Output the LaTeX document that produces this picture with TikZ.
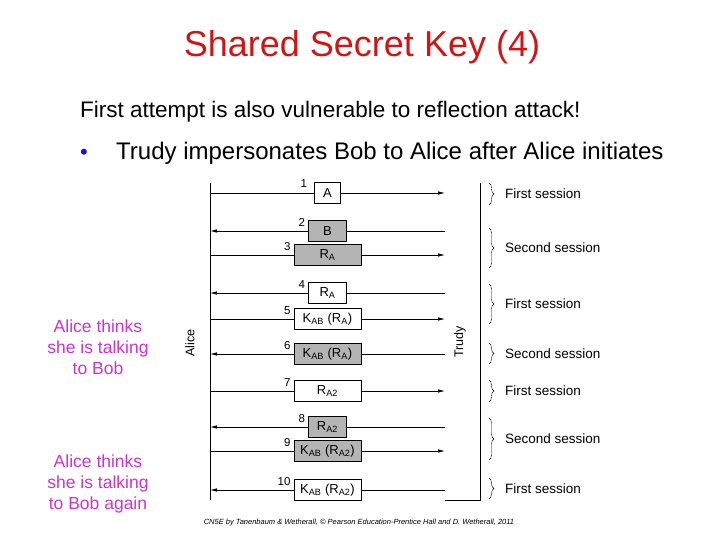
\documentclass[tikz,border=0pt]{standalone}
\usepackage{fontspec}
\setmainfont{Liberation Sans}
\usetikzlibrary{arrows.meta,decorations.pathreplacing}
\definecolor{titlered}{RGB}{210,20,20}
\definecolor{thinkpink}{RGB}{204,51,204}
\definecolor{bulletblue}{RGB}{20,20,200}
\definecolor{boxgray}{RGB}{180,180,180}
\tikzset{
  msg/.style={line width=0.7pt,-{Latex[length=7pt,width=3.5pt]}},
  life/.style={line width=0.7pt},
  pkt/.style={draw,line width=0.7pt,fill=white,inner sep=0pt,minimum height=21pt,font=\fontsize{13}{13}\selectfont},
  wide/.style={minimum width=67pt},
  narrow/.style={minimum width=38pt},
  shade/.style={fill=boxgray},
  num/.style={inner sep=0pt,anchor=east,font=\fontsize{11.5}{12}\selectfont},
  brc/.style={decorate,decoration={brace,amplitude=5pt}},
  sess/.style={anchor=west,inner sep=0pt,xshift=16pt,font=\fontsize{13.5}{14}\selectfont},
  think/.style={text=thinkpink,align=center,font=\fontsize{17.5}{21}\selectfont},
}
\begin{document}
\begin{tikzpicture}[x=1pt,y=-1pt]
    \useasboundingbox (0,0) rectangle (720,540);

    \node[anchor=base,text=titlered,font=\fontsize{36}{40}\selectfont] (title) at (362,57) {Shared Secret Key (4)};
    \node[anchor=base west,inner sep=0pt,font=\fontsize{22.5}{26}\selectfont] (intro) at (80,118) {First attempt is also vulnerable to reflection attack!};
    \node[anchor=base west,inner sep=0pt,text=bulletblue,font=\fontsize{22}{26}\selectfont] (dot) at (80,160) {•};
    \node[anchor=base west,inner sep=0pt,font=\fontsize{24}{28}\selectfont] (point) at (116,160) {Trudy impersonates Bob to Alice after Alice initiates};

    \node[think] (think1) at (98,347) {Alice thinks\\she is talking\\to Bob};
    \node[think] (think2) at (98,484) {Alice thinks\\she is talking\\to Bob again};

    % lifelines
    \coordinate (alicetop) at (210,183);
    \coordinate (alicebot) at (210,500);
    \coordinate (trudytop) at (480,183);
    \coordinate (trudybot) at (480,500);
    \node[rotate=90,font=\fontsize{12.5}{13}\selectfont] (alice) at (190,343) {Alice};
    \node[rotate=90,font=\fontsize{12.5}{13}\selectfont] (trudy) at (460,342) {Trudy};

    \coordinate (A1) at (210,193);  \coordinate (T1) at (445,193);
    \coordinate (A2) at (210,231);  \coordinate (T2) at (445,231);
    \coordinate (A3) at (210,255);  \coordinate (T3) at (445,255);
    \coordinate (A4) at (210,293);  \coordinate (T4) at (445,293);
    \coordinate (A5) at (210,319);  \coordinate (T5) at (445,319);
    \coordinate (A6) at (210,354);  \coordinate (T6) at (445,354);
    \coordinate (A7) at (210,391);  \coordinate (T7) at (445,391);
    \coordinate (A8) at (210,427);  \coordinate (T8) at (445,427);
    \coordinate (A9) at (210,451);  \coordinate (T9) at (445,451);
    \coordinate (A10) at (210,490); \coordinate (T10) at (445,490);

    \draw[life] (alicetop) -- (alicebot);
    \draw[life] (T10 |- trudybot) -- (trudybot) -- (trudytop);

    % messages
    \draw[msg] (A1) -- node[pkt,minimum width=26pt] (m1) {A} (T1);
    \draw[msg] (T2) -- node[pkt,narrow,shade] (m2) {B} (A2);
    \draw[msg] (A3) -- node[pkt,wide,shade] (m3) {R\textsubscript{A}} (T3);
    \draw[msg] (T4) -- node[pkt,narrow] (m4) {R\textsubscript{A}} (A4);
    \draw[msg] (A5) -- node[pkt,wide] (m5) {K\textsubscript{AB} (R\textsubscript{A})} (T5);
    \draw[msg] (T6) -- node[pkt,wide,shade] (m6) {K\textsubscript{AB} (R\textsubscript{A})} (A6);
    \draw[msg] (A7) -- node[pkt,wide] (m7) {R\textsubscript{A2}} (T7);
    \draw[msg] (T8) -- node[pkt,narrow,shade] (m8) {R\textsubscript{A2}} (A8);
    \draw[msg] (A9) -- node[pkt,wide,shade] (m9) {K\textsubscript{AB} (R\textsubscript{A2})} (T9);
    \draw[msg] (T10) -- node[pkt,wide] (m10) {K\textsubscript{AB} (R\textsubscript{A2})} (A10);

    \node[num] (n1) at ([xshift=-7pt,yshift=-1pt]m1.north west) {1};
    \node[num] (n2) at ([xshift=-3pt,yshift=-2pt]m2.north west) {2};
    \node[num] (n3) at ([xshift=-3pt,yshift=-2pt]m3.north west) {3};
    \node[num] (n4) at ([xshift=-3pt,yshift=-2pt]m4.north west) {4};
    \node[num] (n5) at ([xshift=-3pt,yshift=-2pt]m5.north west) {5};
    \node[num] (n6) at ([xshift=-3pt,yshift=-2pt]m6.north west) {6};
    \node[num] (n7) at ([xshift=-3pt,yshift=-2pt]m7.north west) {7};
    \node[num] (n8) at ([xshift=-3pt,yshift=-2pt]m8.north west) {8};
    \node[num] (n9) at ([xshift=-3pt,yshift=-2pt]m9.north west) {9};
    \node[num] (n10) at ([xshift=-3pt,yshift=-2pt]m10.north west) {10};

    % sessions
    \draw[brc] (489,183) -- node[sess] (s1) {First session} (489,205);
    \draw[brc] (489,228) -- node[sess] (s2) {Second session} (489,268);
    \draw[brc] (489,284) -- node[sess] (s3) {First session} (489,324);
    \draw[brc] (489,343) -- node[sess] (s4) {Second session} (489,364);
    \draw[brc] (489,380) -- node[sess] (s5) {First session} (489,402);
    \draw[brc] (489,418) -- node[sess] (s6) {Second session} (489,460);
    \draw[brc] (489,478) -- node[sess] (s7) {First session} (489,499);

    \node[font=\fontsize{7.5}{8}\selectfont\itshape] (credit) at (359,523) {CN5E by Tanenbaum \& Wetherall, \textcopyright{} Pearson Education-Prentice Hall and D. Wetherall, 2011};
\end{tikzpicture}
\end{document}
